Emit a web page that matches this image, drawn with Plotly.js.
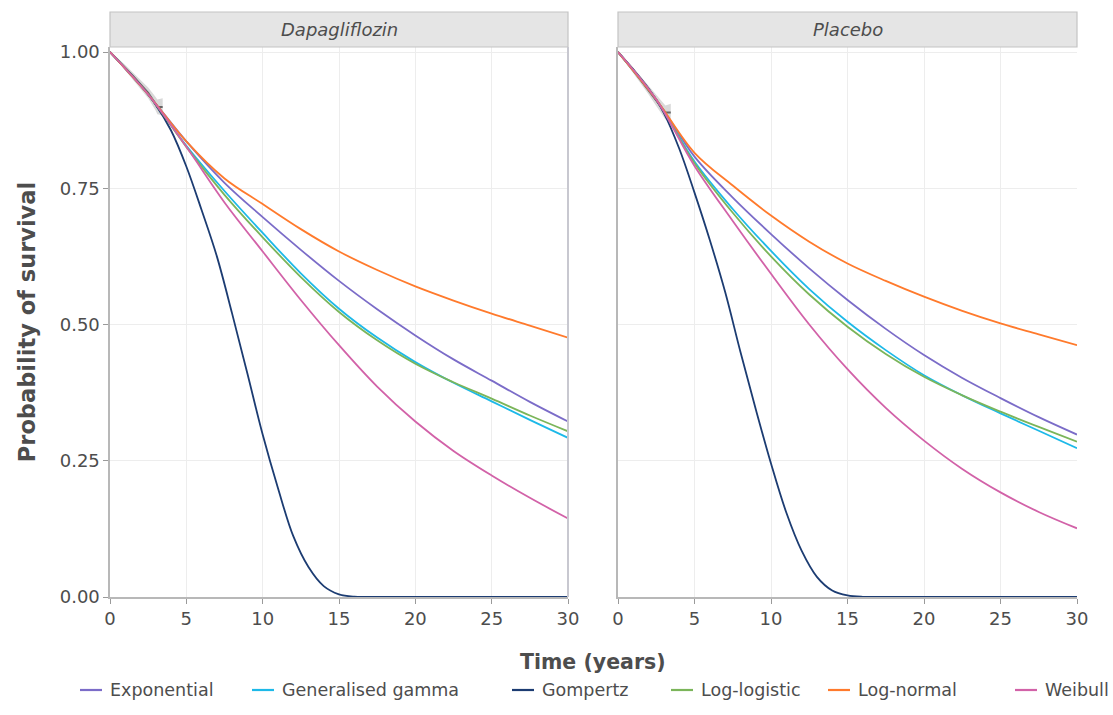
<!DOCTYPE html>
<html>
<head>
<meta charset="utf-8">
<script src="https://cdn.plot.ly/plotly-3.0.1.min.js"></script>
<style>html,body{margin:0;padding:0;background:#fff;}#chart{width:1113px;height:715px;}</style>
</head>
<body>
<div id="chart"></div>
<script>
// ---- data ----
var panels = ["Dapagliflozin", "Placebo"];
var models = ["Exponential", "Generalised gamma", "Gompertz", "Log-logistic", "Log-normal", "Weibull"];
var modelColors = ["#7B6CC8", "#1DB9E8", "#1C3C72", "#7BB55A", "#FF7A2C", "#D262A8"];

var timeGrid = [0, 2.5, 5, 7.5, 10, 12.5, 15, 17.5, 20, 22.5, 25, 27.5, 30];
var gompTime = [0, 1, 2, 3, 4, 5, 6, 7, 8, 9, 10, 11, 12, 13, 14, 15, 16, 17, 30];

// Dapagliflozin
var dapaExponential = [1, 0.922, 0.836, 0.760, 0.697, 0.637, 0.580, 0.528, 0.480, 0.436, 0.397, 0.358, 0.322];
var dapaGenGamma    = [1, 0.922, 0.828, 0.745, 0.668, 0.594, 0.529, 0.476, 0.431, 0.393, 0.359, 0.325, 0.292];
var dapaLogLogistic = [1, 0.922, 0.826, 0.738, 0.660, 0.587, 0.523, 0.471, 0.428, 0.394, 0.364, 0.333, 0.304];
var dapaLogNormal   = [1, 0.922, 0.836, 0.768, 0.721, 0.675, 0.634, 0.600, 0.570, 0.544, 0.520, 0.498, 0.476];
var dapaWeibull     = [1, 0.922, 0.826, 0.724, 0.634, 0.545, 0.462, 0.386, 0.322, 0.268, 0.223, 0.182, 0.144];
var dapaGompertz    = [1, 0.970, 0.939, 0.903, 0.856, 0.790, 0.710, 0.625, 0.520, 0.410, 0.298, 0.200, 0.112, 0.055, 0.020, 0.005, 0.0005, 0, 0];

// Placebo
var placExponential = [1, 0.913, 0.808, 0.733, 0.666, 0.603, 0.545, 0.492, 0.444, 0.402, 0.365, 0.330, 0.298];
var placGenGamma    = [1, 0.913, 0.799, 0.712, 0.635, 0.565, 0.505, 0.453, 0.407, 0.370, 0.337, 0.305, 0.273];
var placLogLogistic = [1, 0.913, 0.796, 0.705, 0.625, 0.555, 0.496, 0.446, 0.404, 0.370, 0.340, 0.312, 0.285];
var placLogNormal   = [1, 0.913, 0.815, 0.755, 0.700, 0.652, 0.612, 0.580, 0.551, 0.525, 0.502, 0.482, 0.462];
var placWeibull     = [1, 0.913, 0.791, 0.690, 0.593, 0.500, 0.418, 0.347, 0.287, 0.235, 0.192, 0.156, 0.126];
var placGompertz    = [1, 0.968, 0.933, 0.888, 0.823, 0.742, 0.655, 0.560, 0.450, 0.345, 0.245, 0.155, 0.085, 0.037, 0.012, 0.003, 0.0003, 0, 0];

// Kaplan-Meier (observed) with confidence band
var kmTime   = [0, 0.5, 1, 1.5, 2, 2.5, 3, 3.1, 3.45];
var kmDapa   = [1, 0.986, 0.971, 0.956, 0.941, 0.925, 0.904, 0.899, 0.899];
var kmDapaLo = [1, 0.983, 0.966, 0.950, 0.933, 0.915, 0.892, 0.886, 0.884];
var kmDapaHi = [1, 0.989, 0.976, 0.962, 0.949, 0.935, 0.917, 0.913, 0.915];
var kmPlac   = [1, 0.984, 0.966, 0.948, 0.930, 0.911, 0.893, 0.889, 0.889];
var kmPlacLo = [1, 0.981, 0.961, 0.942, 0.922, 0.901, 0.881, 0.876, 0.873];
var kmPlacHi = [1, 0.987, 0.971, 0.954, 0.938, 0.921, 0.905, 0.902, 0.905];

var xTickVals = [0, 5, 10, 15, 20, 25, 30];
var xTickText = ["0", "5", "10", "15", "20", "25", "30"];
var yTickVals = [0, 0.25, 0.5, 0.75, 1];
var yTickText = ["0.00", "0.25", "0.50", "0.75", "1.00"];

// ---- build traces ----
var panelData = [
  {exp: dapaExponential, gg: dapaGenGamma, gomp: dapaGompertz, ll: dapaLogLogistic, ln: dapaLogNormal, wb: dapaWeibull,
   km: kmDapa, lo: kmDapaLo, hi: kmDapaHi},
  {exp: placExponential, gg: placGenGamma, gomp: placGompertz, ll: placLogLogistic, ln: placLogNormal, wb: placWeibull,
   km: kmPlac, lo: kmPlacLo, hi: kmPlacHi}
];

var traces = [];
panelData.forEach(function (p, i) {
  var xa = i === 0 ? "x" : "x2";
  var ya = i === 0 ? "y" : "y2";
  traces.push({x: kmTime, y: p.lo, xaxis: xa, yaxis: ya, mode: "lines", line: {width: 0},
    showlegend: false, hoverinfo: "skip"});
  traces.push({x: kmTime, y: p.hi, xaxis: xa, yaxis: ya, mode: "lines", line: {width: 0},
    fill: "tonexty", fillcolor: "rgba(170,170,170,0.45)", showlegend: false, hoverinfo: "skip"});
  traces.push({x: kmTime, y: p.km, xaxis: xa, yaxis: ya, mode: "lines", line: {width: 2, color: "#666666"},
    showlegend: false, hoverinfo: "skip"});
  var series = [p.exp, p.gg, p.gomp, p.ll, p.ln, p.wb];
  series.forEach(function (s, k) {
    traces.push({
      x: models[k] === "Gompertz" ? gompTime : timeGrid,
      y: s, xaxis: xa, yaxis: ya, mode: "lines", name: models[k],
      showlegend: false,
      line: {color: modelColors[k], width: 1.8, shape: "spline", smoothing: 1}
    });
  });
});

var tickFont = {family: "DejaVu Sans", size: 18, color: "#4d4d4d"};
var axisCommon = {
  showgrid: true, gridcolor: "#ededed", gridwidth: 1, zeroline: false,
  showline: true, linecolor: "#b8b8b8", linewidth: 1.6,
  ticks: "outside", ticklen: 5, tickcolor: "#9a9a9a", tickwidth: 1,
  tickfont: tickFont, fixedrange: true
};

var W = 967, H = 550, L = 110, T = 47;
function px(x) { return (x - L) / W; }
function py(y) { return (T + H - y) / H; }

var d1 = [0, px(568)];
var d2 = [px(618), 1];
var stripTop = py(12);

var shapes = [
  {type: "rect", xref: "paper", yref: "paper", x0: d1[0], x1: d1[1], y0: 1, y1: stripTop,
    fillcolor: "#e5e5e5", line: {color: "#c4c4c4", width: 1.2}},
  {type: "rect", xref: "paper", yref: "paper", x0: d2[0], x1: d2[1], y0: 1, y1: stripTop,
    fillcolor: "#e5e5e5", line: {color: "#c4c4c4", width: 1.2}},
  {type: "line", xref: "paper", yref: "paper", x0: d1[1], x1: d1[1], y0: 0, y1: 1,
    line: {color: "#c8c8d0", width: 2}}
];
var annotations = [
  {text: panels[0], xref: "paper", yref: "paper", x: (d1[0] + d1[1]) / 2, y: (1 + stripTop) / 2,
    xanchor: "center", yanchor: "middle", showarrow: false,
    font: {family: "DejaVu Sans", size: 18, color: "#4d4d4d", style: "italic"}},
  {text: panels[1], xref: "paper", yref: "paper", x: (d2[0] + d2[1]) / 2, y: (1 + stripTop) / 2,
    xanchor: "center", yanchor: "middle", showarrow: false,
    font: {family: "DejaVu Sans", size: 18, color: "#4d4d4d", style: "italic"}},
  {text: "Time (years)", xref: "paper", yref: "paper", x: px(593), y: py(662),
    xanchor: "center", yanchor: "middle", showarrow: false,
    font: {family: "DejaVu Sans", size: 20.5, color: "#4d4d4d", weight: "bold"}}
];

// legend (drawn as keys + labels at the bottom)
var legendSwatchX = [80, 252, 512, 671, 828, 1015];
var legendY = 690;
models.forEach(function (m, k) {
  var x0 = legendSwatchX[k];
  shapes.push({type: "line", xref: "paper", yref: "paper", x0: px(x0), x1: px(x0 + 22), y0: py(legendY), y1: py(legendY),
    line: {color: modelColors[k], width: 2.2}});
  annotations.push({text: m, xref: "paper", yref: "paper", x: px(x0 + 28), y: py(legendY),
    xanchor: "left", yanchor: "middle", showarrow: false,
    font: {family: "DejaVu Sans", size: 17.5, color: "#4d4d4d"}});
});

var layout = {
  width: 1113, height: 715,
  paper_bgcolor: "#ffffff", plot_bgcolor: "#ffffff",
  margin: {l: L, r: 1113 - L - W, t: T, b: 715 - T - H},
  font: {family: "DejaVu Sans", color: "#4d4d4d"},
  showlegend: false,
  xaxis: Object.assign({}, axisCommon, {domain: d1, range: [0, 30], anchor: "y", tickvals: xTickVals, ticktext: xTickText}),
  xaxis2: Object.assign({}, axisCommon, {domain: d2, range: [0, 30], anchor: "y2", tickvals: xTickVals, ticktext: xTickText}),
  yaxis: Object.assign({}, axisCommon, {domain: [0, 1], range: [0, 1.0092], anchor: "x", tickvals: yTickVals, ticktext: yTickText,
    title: {text: "Probability of survival", font: {family: "DejaVu Sans", size: 22.5, color: "#4d4d4d", weight: "bold"}, standoff: 18}}),
  yaxis2: Object.assign({}, axisCommon, {domain: [0, 1], range: [0, 1.0092], anchor: "x2", tickvals: yTickVals,
    showticklabels: false, ticks: ""}),
  shapes: shapes,
  annotations: annotations
};

Plotly.newPlot("chart", traces, layout, {displayModeBar: false, staticPlot: true});
</script>
</body>
</html>
